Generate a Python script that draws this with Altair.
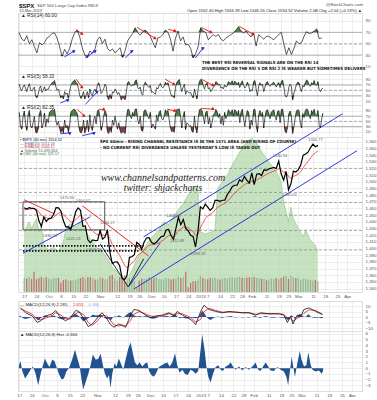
import altair as alt
import pandas as pd

# ---------------- calendar (trading-day index on the x axis) ----------------
HOLIDAYS = ["2012-10-29", "2012-10-30", "2012-11-22", "2012-12-25",
            "2013-01-01", "2013-01-21", "2013-02-18", "2013-03-29"]
DAYS = [d.strftime("%Y-%m-%d") for d in pd.bdate_range("2012-09-17", "2013-04-05")
        if d.strftime("%Y-%m-%d") not in HOLIDAYS]
POS = {d: i for i, d in enumerate(DAYS)}

TICK_DATES = ["2012-09-17", "2012-09-24", "2012-10-01", "2012-10-08", "2012-10-15", "2012-10-22",
              "2012-11-01", "2012-11-12", "2012-11-19", "2012-11-26", "2012-12-03", "2012-12-10",
              "2012-12-17", "2012-12-24", "2013-01-02", "2013-01-07", "2013-01-14", "2013-01-22",
              "2013-01-28", "2013-02-01", "2013-02-11", "2013-02-19", "2013-02-25", "2013-03-01",
              "2013-03-11", "2013-03-18", "2013-03-25", "2013-04-01"]
TICK_LABELS = ["17", "24", "Oct", "8", "15", "22", "Nov", "12", "19", "26", "Dec", "10", "17", "24",
               "2013", "7", "14", "22", "28", "Feb", "11", "19", "25", "Mar", "11", "18", "25", "Apr"]
TICK_POS = [POS[d] for d in TICK_DATES]

# ---------------- price panel data ----------------
CLOSE = [1461.2, 1459.3, 1461.1, 1460.3, 1460.2, 1456.9, 1441.6, 1433.3, 1447.2, 1440.7,
         1444.5, 1445.8, 1451.0, 1461.4, 1460.9, 1455.9, 1441.5, 1432.6, 1432.8, 1428.6,
         1440.1, 1454.9, 1460.9, 1457.3, 1433.2, 1433.8, 1413.1, 1408.8, 1413.0, 1411.9,
         1412.2, 1427.6, 1414.2, 1417.3, 1428.4, 1394.5, 1377.5, 1379.9, 1380.0, 1374.5,
         1355.5, 1353.3, 1359.9, 1386.9, 1387.8, 1391.0, 1409.2, 1406.3, 1398.9, 1409.9,
         1415.9, 1416.2, 1409.5, 1407.1, 1409.3, 1413.9, 1418.1, 1418.6, 1427.8, 1428.5,
         1419.5, 1413.6, 1430.4, 1446.8, 1435.8, 1443.7, 1430.2, 1426.7, 1419.8, 1418.1,
         1402.4, 1426.2, 1462.4, 1459.4, 1466.5, 1461.9, 1457.2, 1461.0, 1472.1, 1472.1,
         1470.7, 1472.3, 1472.6, 1480.9, 1486.0, 1492.6, 1494.8, 1494.8, 1503.0, 1500.2,
         1507.8, 1502.0, 1498.1, 1513.2, 1495.7, 1511.3, 1512.1, 1509.4, 1517.9, 1517.0,
         1519.4, 1520.3, 1521.4, 1519.8, 1530.9, 1512.0, 1502.4, 1515.6, 1487.9, 1496.9,
         1516.0, 1514.7, 1518.2, 1525.2, 1539.8, 1541.5, 1544.3, 1551.2, 1556.2, 1552.5,
         1554.5]
EMA34 = [1458, 1458.5, 1459, 1459.5, 1459.8, 1459, 1455, 1450, 1448, 1446,
         1445, 1445, 1446.5, 1450, 1453, 1454, 1451, 1447, 1444, 1440,
         1440, 1443, 1447, 1450, 1446, 1443, 1436, 1430, 1426, 1423,
         1420.5, 1422, 1420.5, 1419.5, 1421.5, 1415, 1406, 1400, 1395, 1390,
         1382, 1375, 1371, 1375, 1378, 1381, 1388, 1392, 1394, 1398,
         1402, 1405, 1406, 1406, 1407, 1408.5, 1411, 1413, 1416.5, 1419.5,
         1419.5, 1418, 1421, 1427, 1429, 1432.5, 1432, 1431, 1428, 1426,
         1420, 1421.5, 1431, 1438, 1445, 1449, 1451, 1453.5, 1458, 1461.5,
         1464, 1466, 1467.5, 1471, 1474.5, 1479, 1483, 1486, 1490, 1492.5,
         1496, 1497.5, 1497.5, 1501, 1500, 1502.5, 1505, 1506, 1509, 1511,
         1513, 1514.5, 1516, 1517, 1520, 1518, 1514, 1514.5, 1508, 1505,
         1508, 1509.5, 1511.5, 1515, 1521, 1526, 1530.5, 1535.5, 1540.5, 1543.5,
         1546.1]
VOLUME = [3.7, 3.5, 3.9, 3.4, 5.2, 3.3, 3.7, 3.9, 3.6, 3.8,
          3.4, 3.3, 3.6, 3.6, 3.6, 2.4, 3.1, 3.3, 3.0, 3.0,
          3.0, 3.1, 3.4, 3.6, 3.9, 3.3, 3.8, 3.8, 3.6, 3.2,
          3.3, 3.8, 3.6, 3.2, 3.4, 4.2, 4.4, 3.6, 2.9, 3.8,
          4.1, 4.2, 4.2, 3.5, 3.2, 2.8, 1.2, 3.0, 3.4, 3.4,
          3.5, 3.9, 3.4, 3.6, 3.8, 3.4, 3.3, 3.2, 3.6, 3.6,
          3.2, 3.4, 3.4, 4.0, 3.6, 3.8, 5.2, 1.2, 2.3, 2.8,
          2.8, 3.2, 4.2, 3.6, 3.4, 3.3, 3.6, 3.6, 3.7, 3.4,
          3.2, 3.5, 3.6, 3.5, 3.7, 3.8, 3.6, 3.8, 3.9, 3.6,
          3.6, 3.7, 3.8, 3.8, 3.9, 3.6, 3.6, 3.4, 3.4, 3.0,
          3.2, 3.5, 3.3, 3.6, 3.3, 3.6, 4.0, 4.1, 3.4, 4.2,
          3.8, 3.6, 3.5, 3.1, 3.4, 3.4, 3.2, 3.1, 2.9, 3.1,
          2.8]
GREEN_X = [0, 2, 3, 5, 6, 7, 8, 10, 12, 14, 16, 17, 19, 21, 23, 25, 26, 28, 30, 32,
           34, 36, 38, 40, 42, 43, 45, 47, 49, 51, 53, 55, 57, 59, 61, 63, 65, 67, 69, 71,
           72, 74, 76, 78, 79, 81, 83, 85, 87, 89, 91, 93, 95, 97, 99, 101, 103, 105, 106, 107,
           108, 109, 110, 112, 114, 115, 117, 119, 120]
GREEN_TOP = [1425, 1440, 1430, 1445, 1425, 1435, 1405, 1398, 1402, 1395, 1410, 1430, 1438, 1432, 1440, 1428, 1420, 1410, 1400, 1395,
             1385, 1372, 1365, 1358, 1346, 1360, 1375, 1390, 1400, 1412, 1420, 1428, 1440, 1436, 1448, 1458, 1468, 1480, 1492, 1488,
             1425, 1422, 1424, 1428, 1490, 1500, 1510, 1525, 1538, 1550, 1560, 1565, 1558, 1545, 1535, 1525, 1515, 1500, 1470, 1455,
             1440, 1462, 1445, 1430, 1418, 1428, 1412, 1405, 1395]
LEVELS = [1520, 1484, 1469, 1450, 1427, 1398]
PRICE_LABELS = [("1470.96", 17.5, 1476), ("1464.02", 24, 1471), ("1430.53", 10.5, 1419),
                ("1425.53", 20, 1415), ("1403.28", 28.5, 1398), ("1434.27", 34, 1439),
                ("1448.00", 61, 1449), ("1411.88", 62.5, 1412), ("1398.18", 71, 1392),
                ("1530.94", 104.5, 1539), ("1485.01", 108.5, 1480), ("1556.77", 119, 1563)]
TREND = [("lower channel", "b", [(44.8, 1339.6), (136, 1546.5)]),
         ("steep support", "b", [(42.9, 1344), (55.6, 1408.5)]),
         ("sep support", "b", [(-0.5, 1393), (27, 1447.6)]),
         ("sep top", "r", [(0, 1473), (12.3, 1452)]),
         ("oct downtrend", "r", [(23.8, 1464), (50.8, 1389)]),
         ("v", "k", [(31, 1407), (42.5, 1342.6), (48.8, 1384.6)])]
UPPER_CHANNEL = [(48.8, 1417.6), (130.2, 1602)]
DOTTED = [(1404, -0.5, 48.8), (1396.6, -0.5, 46.8)]
BOX = (-0.5, 32.9, 1470, 1428)

# ---------------- RSI panels ----------------
RSI14 = [69, 58, 55, 64, 50, 57, 45, 34, 52, 48,
         52, 60, 63, 68, 69, 60, 45, 28, 40, 32,
         42, 58, 70, 74, 62, 43, 30, 25.5, 37, 34,
         40, 57, 62, 50, 58, 42, 37, 41, 34, 38,
         43, 26, 38, 55, 62, 68, 78, 70, 65, 71,
         74, 69, 63, 52, 43, 60, 62, 66, 74, 70,
         58, 37, 60, 72, 55, 62, 48, 49, 42, 25,
         33, 45, 78, 72, 70, 57, 62, 66, 63, 66,
         58, 55, 60, 63, 66, 69, 74, 80, 72, 69,
         72, 66, 62, 69, 46, 66, 62, 58, 63, 63,
         60, 57, 62, 66, 70, 49, 31, 43, 31, 42,
         55, 50, 52, 63, 71, 68, 69, 72, 76, 59,
         60]
RSI5 = [(72, 55), (48, 62), (70, 58), (45, 63), (74, 52), (47, 55), (62, 28), (22, 35), (58, 66), (42, 50),
        (63, 48), (55, 52), (65, 70), (78, 80), (86, 64), (50, 55), (38, 22), (30, 18), (45, 35), (40, 20),
        (48, 68), (78, 84), (88, 80), (75, 55), (30, 20), (28, 45), (18, 30), (45, 22), (55, 38), (30, 48),
        (55, 45), (70, 78), (62, 38), (45, 55), (72, 65), (25, 15), (35, 18), (45, 40), (55, 48), (35, 42),
        (30, 14), (25, 20), (15, 45), (78, 82), (70, 65), (72, 68), (85, 88), (60, 55), (62, 38), (32, 70),
        (80, 72), (65, 60), (68, 42), (45, 40), (35, 60), (55, 68), (75, 62), (60, 64), (80, 72), (78, 60),
        (40, 28), (30, 22), (62, 78), (85, 90), (65, 45), (60, 72), (35, 48), (45, 40), (42, 30), (22, 55),
        (35, 18), (55, 82), (90, 86), (68, 55), (72, 78), (55, 60), (45, 50), (62, 65), (82, 78), (70, 72),
        (58, 62), (55, 70), (62, 66), (82, 78), (75, 85), (70, 84), (78, 72), (80, 60), (76, 85), (68, 58),
        (64, 80), (72, 45), (52, 48), (82, 86), (55, 30), (65, 78), (68, 72), (45, 62), (78, 82), (70, 65),
        (72, 76), (80, 70), (62, 74), (78, 60), (82, 88), (62, 30), (25, 35), (62, 72), (65, 14), (40, 55),
        (72, 80), (78, 58), (45, 68), (62, 78), (88, 84), (70, 65), (78, 72), (86, 70), (68, 82), (50, 45),
        (55, 58)]
RSI2 = [(85, 30), (20, 70), (90, 40), (15, 75), (92, 30), (25, 45), (70, 8), (5, 20), (80, 92), (25, 40),
        (82, 30), (60, 45), (85, 90), (95, 92), (97, 55), (35, 50), (25, 6), (20, 5), (55, 25), (35, 8),
        (40, 85), (92, 96), (97, 88), (80, 40), (12, 5), (15, 55), (5, 20), (55, 10), (75, 30), (15, 55),
        (70, 40), (88, 95), (65, 15), (35, 70), (92, 80), (10, 3), (25, 8), (55, 35), (70, 45), (20, 45),
        (15, 4), (12, 8), (3, 60), (95, 96), (75, 60), (85, 70), (97, 98), (55, 40), (70, 15), (12, 90),
        (95, 85), (70, 60), (85, 25), (40, 30), (20, 75), (50, 85), (92, 60), (55, 70), (95, 85), (92, 55),
        (25, 10), (15, 8), (80, 95), (97, 98), (70, 25), (65, 88), (18, 45), (40, 30), (35, 12), (8, 70),
        (25, 5), (60, 95), (98, 92), (70, 40), (85, 90), (40, 65), (25, 45), (75, 80), (96, 88), (65, 80),
        (40, 70), (35, 85), (60, 75), (95, 88), (80, 95), (70, 95), (90, 75), (92, 45), (85, 97), (60, 30),
        (70, 92), (85, 20), (55, 35), (95, 97), (40, 8), (75, 92), (70, 85), (25, 65), (92, 95), (80, 60),
        (85, 90), (95, 70), (55, 88), (92, 45), (95, 98), (60, 10), (6, 30), (80, 90), (70, 3), (30, 65),
        (90, 95), (92, 45), (25, 80), (65, 92), (98, 95), (75, 60), (92, 80), (97, 75), (70, 92), (35, 25),
        (60, 82)]
RSI14_ARROWS = [(17.9, 26.7, 21.8, 37.2, "b"), (26.2, 24.9, 30.2, 37.2, "b"), (42.1, 24.9, 44.8, 37.2, "b"),
                (69.8, 24.9, 73, 42.5, "b"), (22.6, 74.2, 25, 67.2, "r"), (46.8, 78.7, 54, 59.4, "r"),
                (59.1, 75.6, 61.9, 72.1, "r"), (72.2, 78.7, 76.2, 69.9, "r"), (87.3, 80.5, 92.9, 66.4, "r")]
RSI5_ARROWS = [(22.6, 91, 25, 61, "r"), (57.9, 91, 61.5, 72, "r"), (72.2, 91, 77, 68, "r"),
               (16.3, 3.5, 19.4, 15, "b"), (26.2, -2, 31, 45, "b")]
RSI2_ARROWS = [(23, 97, 25.8, 71, "r"), (31.7, 97, 33.7, 95, "r"), (58.7, 97, 61.9, 90, "r"),
               (72.2, 100, 77, 97, "r"), (16.3, 2, 20.2, 6, "b"), (25, -5, 29.8, 6, "b")]

# ---------------- MACD ----------------
MACD_X = [0.5, 2.5, 5.2, 7.1, 8.5, 10.5, 13.1, 14.4, 16.4, 18.4, 20.4, 22.4, 23.7, 25.7, 27.4, 29.0,
          31.6, 32.9, 34.9, 36.2, 37.6, 39.5, 40.9, 42.2, 44.2, 45.5, 47.5, 50.1, 52.1, 54.1, 56.7,
          59.4, 61.4, 62.7, 64.7, 66.7, 68.7, 70.0, 72.0, 73.3, 75.3, 77.9, 80.6, 83.2, 85.8, 88.5,
          91.1, 93.8, 95.8, 99.1, 103.0, 105.0, 106.4, 107.7, 108.6, 110.3, 111.7, 113.0, 115.0,
          117.6, 120.3]
MACD_LINE = [8.3, 3.9, 1.0, -4.8, -3.3, 1.0, 3.0, 6.0, -0.4, -3.3, -0.4, 6.0, 5.1, -1.9, -8.5, -6.2,
             1.0, 3.9, -1.9, -6.8, -9.1, -6.2, -7.7, -9.1, 1.8, 6.9, 6.0, 1.8, -0.4, 1.0, 1.8,
             3.9, 1.0, 5.1, 1.8, -0.4, -3.3, -6.8, 5.1, 10.6, 6.9, 5.1, 3.9, 5.1, 4.5, 3.9,
             3.9, 1.8, 3.9, 3.0, 3.0, 1.8, -4.8, 1.0, -6.2, 1.8, 1.0, 6.9, 8.3, 5.1, 2.3]
MACD_SIGNAL = [7.5, 5.5, 2.5, -1.5, -2.5, -1.0, 1.5, 4.0, 2.0, -1.5, -1.5, 3.0, 4.5, 2.0, -5.0, -7.5,
               -2.0, 1.5, 1.0, -3.0, -7.0, -8.0, -7.0, -8.0, -3.0, 2.5, 5.0, 3.0, 1.0, 0.5, 1.0,
               3.0, 2.5, 3.0, 3.0, 1.0, -1.5, -4.5, -2.0, 5.0, 8.0, 6.0, 4.5, 4.5, 4.5, 4.0,
               4.0, 2.5, 3.0, 3.0, 3.0, 2.5, -1.0, -1.5, -3.5, -1.0, 0.5, 3.5, 6.5, 6.0, 2.65]
HIST_X = [-0.1, 0.5, 1.2, 2.3, 3.2, 4.5, 5.4, 6.5, 7.5, 8.5, 9.4, 10.2, 11.1, 12, 13.1, 14, 14.8, 15.7,
          16.8, 17.7, 18.7, 19.7, 21, 22.1, 23, 24, 24.7, 25.4, 26.3, 27.4, 28.3, 29.2, 30.3, 31.3,
          32.3, 33.2, 34, 34.9, 35.6, 36.2, 36.9, 37.8, 38.6, 39.5, 40.5, 41.3, 42.2, 43.3, 44.2,
          45.1, 45.9, 46.8, 47.8, 48.8, 49.9, 50.8, 51.5, 52.4, 53.4, 54.4, 55.4, 56.5, 57.7, 58.7,
          59.7, 60.7, 61.8, 62.7, 63.6, 64.7, 65.7, 66.8, 68, 68.9, 70, 71, 72, 72.6, 73.6, 74.2,
          75, 75.9, 76.9, 77.9, 79, 79.9, 80.8, 81.9, 82.9, 83.9, 84.8, 85.8, 87.2, 88.5, 89.8,
          91.1, 92.5, 93.8, 94.8, 95.8, 96.7, 97.8, 98.8, 99.7, 101, 102.4, 103.7, 105, 106, 106.7,
          107.4, 108.1, 108.7, 109.4, 110.2, 111.3, 112, 113, 113.9, 114.7, 115.5, 116.3, 117.6,
          118.9, 120, 120.6]
HIST_V = [0.5, 1.2, -0.5, -1.8, -1.2, -0.3, 0.3, -1.0, -3.0, -1.0, 0.5, 1.7, 0.8, 0.2, 1.5, 1.2, 0.2, -1.0,
          -2.0, -1.8, -0.6, 0, 1.5, 3.2, 1.8, 0.3, -2.0, -3.7, -2.5, -1.0, 0.5, 2.4, 1.5, 1.6,
          2.5, 0.5, -1.0, -1.8, -1.2, -3.5, -1.0, 0.8, 0.3, 1.7, 0.6, -0.3, 1.5, 3.5, 4.5,
          2.5, 1.0, 0.5, 1.0, 0.3, 0.8, 1.0, -0.5, -1.2, -1.5, -0.8, 0.2, 0.5, 0.8, 1.0,
          0.3, 1.0, 2.6, 0.5, -0.8, -0.3, -1.0, -1.2, -0.3, -0.5, -1.0, -0.5, 3.5, 5.9, 3.0, 0.5,
          -1.5, -2.5, -1.0, 0.2, 0.5, -0.3, -0.5, 0.3, 0.5, 1.0, 0.3, -0.3, 0.3, -0.4, 0.2,
          -0.3, 0.3, 1.0, -0.3, -0.5, 0.3, 1.0, 0.3, -0.4, -0.5, 0.2, -0.3, -0.6, -1.5, -3.0,
          -0.5, 2.0, 0.3, -1.5, 0.5, 3.0, 1.5, 0.3, 0.5, 2.8, 0.8, -0.3, -0.6,
          -0.4, -1.0, -0.4]

# ---------------- styling helpers ----------------
FONT = "Liberation Sans"
NARROW = "Liberation Sans Narrow, DejaVu Sans Condensed, Liberation Sans"
RED, BLUE, BLACK = "#e3161b", "#1c23e0", "#111111"
CMAP = {"r": RED, "b": BLUE, "k": BLACK}
W = 344
X_DOM = [-0.5, 136]
LABEL_EXPR = ("[" + ",".join("'%s'" % s for s in TICK_LABELS) + "][indexof(["
              + ",".join(str(p) for p in TICK_POS) + "], datum.value)]")


def x_axis(show):
    return alt.Axis(values=TICK_POS, labelExpr=LABEL_EXPR, labels=show, grid=True, ticks=False,
                    domain=False, title=None, labelFlush=False, labelOverlap=False, labelPadding=2,
                    labelFontSize=4.4, labelColor="#555", labelFont=FONT,
                    gridColor="#e2e2e2", gridWidth=0.6)


def X(field="x", show=False):
    return alt.X(f"{field}:Q", scale=alt.Scale(domain=X_DOM, nice=False, zero=False), axis=x_axis(show))


def y_axis(values):
    return alt.Axis(orient="right", values=values, title=None, grid=True, ticks=False, domain=False,
                    labelFontSize=4.4, labelColor="#555", labelFont=FONT, labelPadding=3,
                    labelOverlap=False, labelFlush=False, gridColor="#e2e2e2", gridWidth=0.6)


def txt(s, x, y, size=4.3, color="#333", align="left", weight="normal", font=FONT, style="normal"):
    return alt.Chart(pd.DataFrame({"t": [s]})).mark_text(
        align=align, baseline="middle", fontSize=size, color=color, fontWeight=weight,
        font=font, fontStyle=style).encode(x=alt.value(x), y=alt.value(y), text="t:N")


def arrow_layers(arrows, Y):
    seg_rows, head_rows = [], []
    for i, (x1, v1, x2, v2, c) in enumerate(arrows):
        seg_rows += [{"seg": i, "x": x1, "v": v1, "c": CMAP[c]}, {"seg": i, "x": x2, "v": v2, "c": CMAP[c]}]
        head_rows.append({"x": x2, "v": v2, "c": CMAP[c], "ang": 120 if c == "r" else 55})
    segs = alt.Chart(pd.DataFrame(seg_rows)).mark_line(strokeWidth=0.9, clip=True).encode(
        x=X(), y=Y("v"), detail="seg:N", color=alt.Color("c:N", scale=None))
    heads = alt.Chart(pd.DataFrame(head_rows)).mark_point(
        shape="triangle-up", filled=True, size=14, opacity=1, clip=True).encode(
        x=X(), y=Y("v"), color=alt.Color("c:N", scale=None), angle=alt.Angle("ang:Q", scale=None))
    return [segs, heads]


def rsi_panel(xs, vals, dom, h, title, arrows, extra=()):
    df = pd.DataFrame({"x": xs, "v": vals})
    ys = alt.Scale(domain=dom, nice=False, zero=False)
    ya = y_axis([10, 30, 50, 70, 90])

    def Y(f):
        return alt.Y(f"{f}:Q", scale=ys, axis=ya)

    base = alt.Chart(df)
    solid = alt.Chart(pd.DataFrame({"lvl": [70, 30]})).mark_rule(color="#a0a0a0", strokeWidth=0.8).encode(y=Y("lvl"))
    dash = alt.Chart(pd.DataFrame({"lvl": [50]})).mark_rule(color="#8a9aaa", strokeWidth=0.8,
                                                              strokeDash=[3, 2]).encode(y=Y("lvl"))
    ob = base.transform_calculate(hi="max(datum.v, 70)").mark_area(color="#4f7f4f", clip=True).encode(
        x=X(), y=Y("hi"), y2=alt.datum(70))
    osd = base.transform_calculate(lo="min(datum.v, 30)").mark_area(color="#7f4343", clip=True).encode(
        x=X(), y=Y("lo"), y2=alt.datum(30))
    line = base.mark_line(color="#141414", strokeWidth=0.7, clip=True).encode(x=X(), y=Y("v"))
    layers = [solid, dash, ob, osd, line] + arrow_layers(arrows, Y)
    layers.append(txt(title, 3, 3, size=4.8, color="#222"))
    layers += list(extra)
    return alt.layer(*layers).properties(width=W, height=h)


# ---------------- RSI panels ----------------
half = [i * 0.5 for i in range(2 * len(RSI5))]
rsi5_flat = [v for pair in RSI5 for v in pair]
rsi2_flat = [v for pair in RSI2 for v in pair]

header = [
    txt("$SPX", 1, -7, size=6, color="#111", weight="bold"),
    txt("S&P 500 Large Cap Index INDX", 19, -7, size=4.3, color="#444"),
    txt("13-Mar-2013", 1, -2, size=4.0, color="#444"),
    txt("@StockCharts.com", 345, -8, size=4.3, color="#444", align="right"),
    txt("Open 1552.40  High 1556.39  Low 1546.26  Close 1554.52  Volume 2.0B  Chg +2.04 (+0.13%) \u25b2",
        344, -2.5, size=4.2, color="#222", align="right"),
    txt("THE BEST RSI REVERSAL SIGNALS ARE ON THE RSI 14", 184, 49.5, size=4.3, color="#111",
        weight="bold", font=NARROW),
    txt("DIVERGENCE ON THE RSI 5 OR RSI 2 IS WEAKER BUT SOMETIMES DELIVERS", 184, 56.3, size=4.3,
        color="#111", weight="bold", font=NARROW),
]

p_rsi14 = rsi_panel(list(range(len(RSI14))), RSI14, [-3.2, 104], 61, "\u25b2 RSI(14) 60.00",
                    RSI14_ARROWS, header)
p_rsi5 = rsi_panel(half, rsi5_flat, [-4, 110], 31, "\u25b2 RSI(5) 58.33", RSI5_ARROWS)
p_rsi2 = rsi_panel(half, rsi2_flat, [-10, 113], 32, "\u25b2 RSI(2) 82.35", RSI2_ARROWS)

# ---------------- price panel ----------------
PS = alt.Scale(domain=[1335, 1567], nice=False, zero=False)
PA = y_axis(list(range(1340, 1561, 10)))


def P(f, axis=False):
    return alt.Y(f"{f}:Q", scale=PS, axis=PA if axis else None)


def XP(field="x"):
    return X(field, show=True)


idx = list(range(len(CLOSE)))
price_df = pd.DataFrame({"x": idx, "close": CLOSE, "ema": EMA34})
vol_df = pd.DataFrame({"x": idx, "vol": VOLUME,
                       "c": ["#8fae8f" if i == 0 or CLOSE[i] >= CLOSE[i - 1] else "#c06060" for i in idx]})
green_df = pd.DataFrame({"x": GREEN_X, "g": GREEN_TOP})
trend_df = pd.DataFrame([{"seg": name, "x": x, "y": y, "c": CMAP[c]}
                         for name, c, pts in TREND for (x, y) in pts])
upper_df = pd.DataFrame(UPPER_CHANNEL, columns=["x", "y"])
dot_df = pd.DataFrame([{"seg": i, "x": x, "y": lvl} for i, (lvl, a, b) in enumerate(DOTTED) for x in (a, b)])
box_df = pd.DataFrame({"x": [BOX[0]], "x2": [BOX[1]], "y": [BOX[2]], "y2": [BOX[3]]})
lab_df = pd.DataFrame(PRICE_LABELS, columns=["t", "x", "y"])

price_layers = [
    alt.Chart(green_df).mark_area(color="#aed6a5", line={"color": "#8cc283", "strokeWidth": 0.6},
                                  clip=True).encode(x=XP(), y=P("g"), y2=alt.datum(1335)),
    alt.Chart(vol_df).mark_bar(width=1.3, opacity=0.85, clip=True).encode(
        x=XP(), y=alt.Y("vol:Q", scale=alt.Scale(domain=[0, 40]), axis=None),
        color=alt.Color("c:N", scale=None)),
    alt.Chart(pd.DataFrame({"lvl": LEVELS})).mark_rule(color="#8a8a8a", strokeWidth=0.7,
                                                       strokeDash=[3, 2]).encode(y=P("lvl")),
    alt.Chart(box_df).mark_rect(fillOpacity=0, stroke="#555555", strokeWidth=1, clip=True).encode(
        x=XP(), x2="x2:Q", y=P("y"), y2="y2:Q"),
    alt.Chart(dot_df).mark_line(color="#111", strokeWidth=1.6, strokeDash=[1.5, 1.5], clip=True).encode(
        x=XP(), y=P("y"), detail="seg:N"),
    alt.Chart(trend_df).mark_line(strokeWidth=0.9, clip=True).encode(
        x=XP(), y=P("y"), detail="seg:N", color=alt.Color("c:N", scale=None)),
    alt.Chart(upper_df).mark_line(strokeWidth=0.9, color=BLUE, clip=False).encode(x=XP(), y=P("y")),
    alt.Chart(price_df).mark_line(color="#e5392b", strokeWidth=0.8, clip=True).encode(x=XP(), y=P("ema")),
    alt.Chart(price_df).mark_line(color="#000000", strokeWidth=1.2, clip=True).encode(
        x=XP(), y=P("close", axis=True)),
    alt.Chart(lab_df).mark_text(fontSize=4, color="#666", font=FONT).encode(x=XP(), y=P("y"), text="t:N"),
    txt("\u25aa $SPX (60 min) 1554.52", 2, 3, size=3.8, color="#111"),
    txt("\u2014 EMA(10) 1551.16", 2, 6.5, size=3.8, color="#5566aa"),
    txt("\u2014 EMA(34) 1546.12", 2, 10, size=3.8, color="#d8332a"),
    txt("\u25b2 Volume 51,495,664", 2, 13.5, size=3.8, color="#555"),
    txt("\u25a0 OBV (60 min) 129.57", 2, 17, size=3.8, color="#3a8a3a"),
    txt("SPX 60min - RISING CHANNEL RESISTANCE IS IN THE 1571 AREA (AND RISING OF COURSE)", 82, 5,
        size=4.3, color="#111", weight="bold", font=NARROW),
    txt("- NO CURRENT RSI DIVERGENCE UNLESS YESTERDAY'S LOW IS TAKEN OUT", 82, 11,
        size=4.3, color="#111", weight="bold", font=NARROW),
    txt("www.channelsandpatterns.com", 145, 41, size=10, color="#222", align="center",
        font="Liberation Serif", style="italic"),
    txt("twitter: shjackcharts", 145, 50.5, size=9.5, color="#222", align="center",
        font="Liberation Serif", style="italic"),
]
p_price = alt.layer(*price_layers).resolve_scale(y="independent").properties(width=W, height=155)

# blank strip that holds the price panel's date labels
p_gap = alt.Chart(pd.DataFrame({"t": [""]})).mark_text().encode(text="t:N").properties(
    width=W, height=9, view=alt.ViewBackground(strokeOpacity=0, fillOpacity=0))

# ---------------- MACD panel ----------------
MS = alt.Scale(domain=[-12.5, 14.5], nice=False, zero=False)
MA = y_axis([-10, -5, 0, 5, 10])


def M(f):
    return alt.Y(f"{f}:Q", scale=MS, axis=MA)


hist_df = pd.DataFrame({"x": HIST_X, "h": HIST_V})
macd_df = pd.DataFrame({"x": MACD_X, "m": MACD_LINE, "s": MACD_SIGNAL})
p_macd = alt.layer(
    alt.Chart(hist_df).mark_area(color="#2a5596", clip=True).encode(x=X(), y=M("h"), y2=alt.datum(0)),
    alt.Chart(macd_df).mark_line(color="#e3161b", strokeWidth=0.8, clip=True).encode(x=X(), y=M("s")),
    alt.Chart(macd_df).mark_line(color="#111", strokeWidth=0.8, clip=True).encode(x=X(), y=M("m")),
    txt("\u2014 MACD(12,26,9) 2.285,", 2, 4, size=4.3, color="#222"),
    txt("2.651,", 55, 4, size=4.3, color=RED),
    txt("-0.366", 69, 4, size=4.3, color="#8aa6d8"),
).properties(width=W, height=30)

# ---------------- histogram panel ----------------
HS = alt.Scale(domain=[-4, 6.5], nice=False, zero=False)
HA = y_axis(list(range(-3, 7)))
p_hist = alt.layer(
    alt.Chart(hist_df).mark_area(color="#22528f", clip=True).encode(
        x=X(show=True), y=alt.Y("h:Q", scale=HS, axis=HA), y2=alt.datum(0)),
    txt("\u25b2 MACD(12,26,9) Hist -0.366", 2, 3.5, size=4.3, color="#222"),
).properties(width=W, height=60)

chart = alt.vconcat(p_rsi14, p_rsi5, p_rsi2, p_price, p_gap, p_macd, p_hist,
                    spacing=0, bounds="flush").configure_view(
    stroke="#9c9c9c", strokeWidth=0.7
).configure(background="white").properties(padding={"left": 16, "top": 2, "right": 0, "bottom": 0})

chart.save("out.html", embed_options={"renderer": "svg", "actions": False})
